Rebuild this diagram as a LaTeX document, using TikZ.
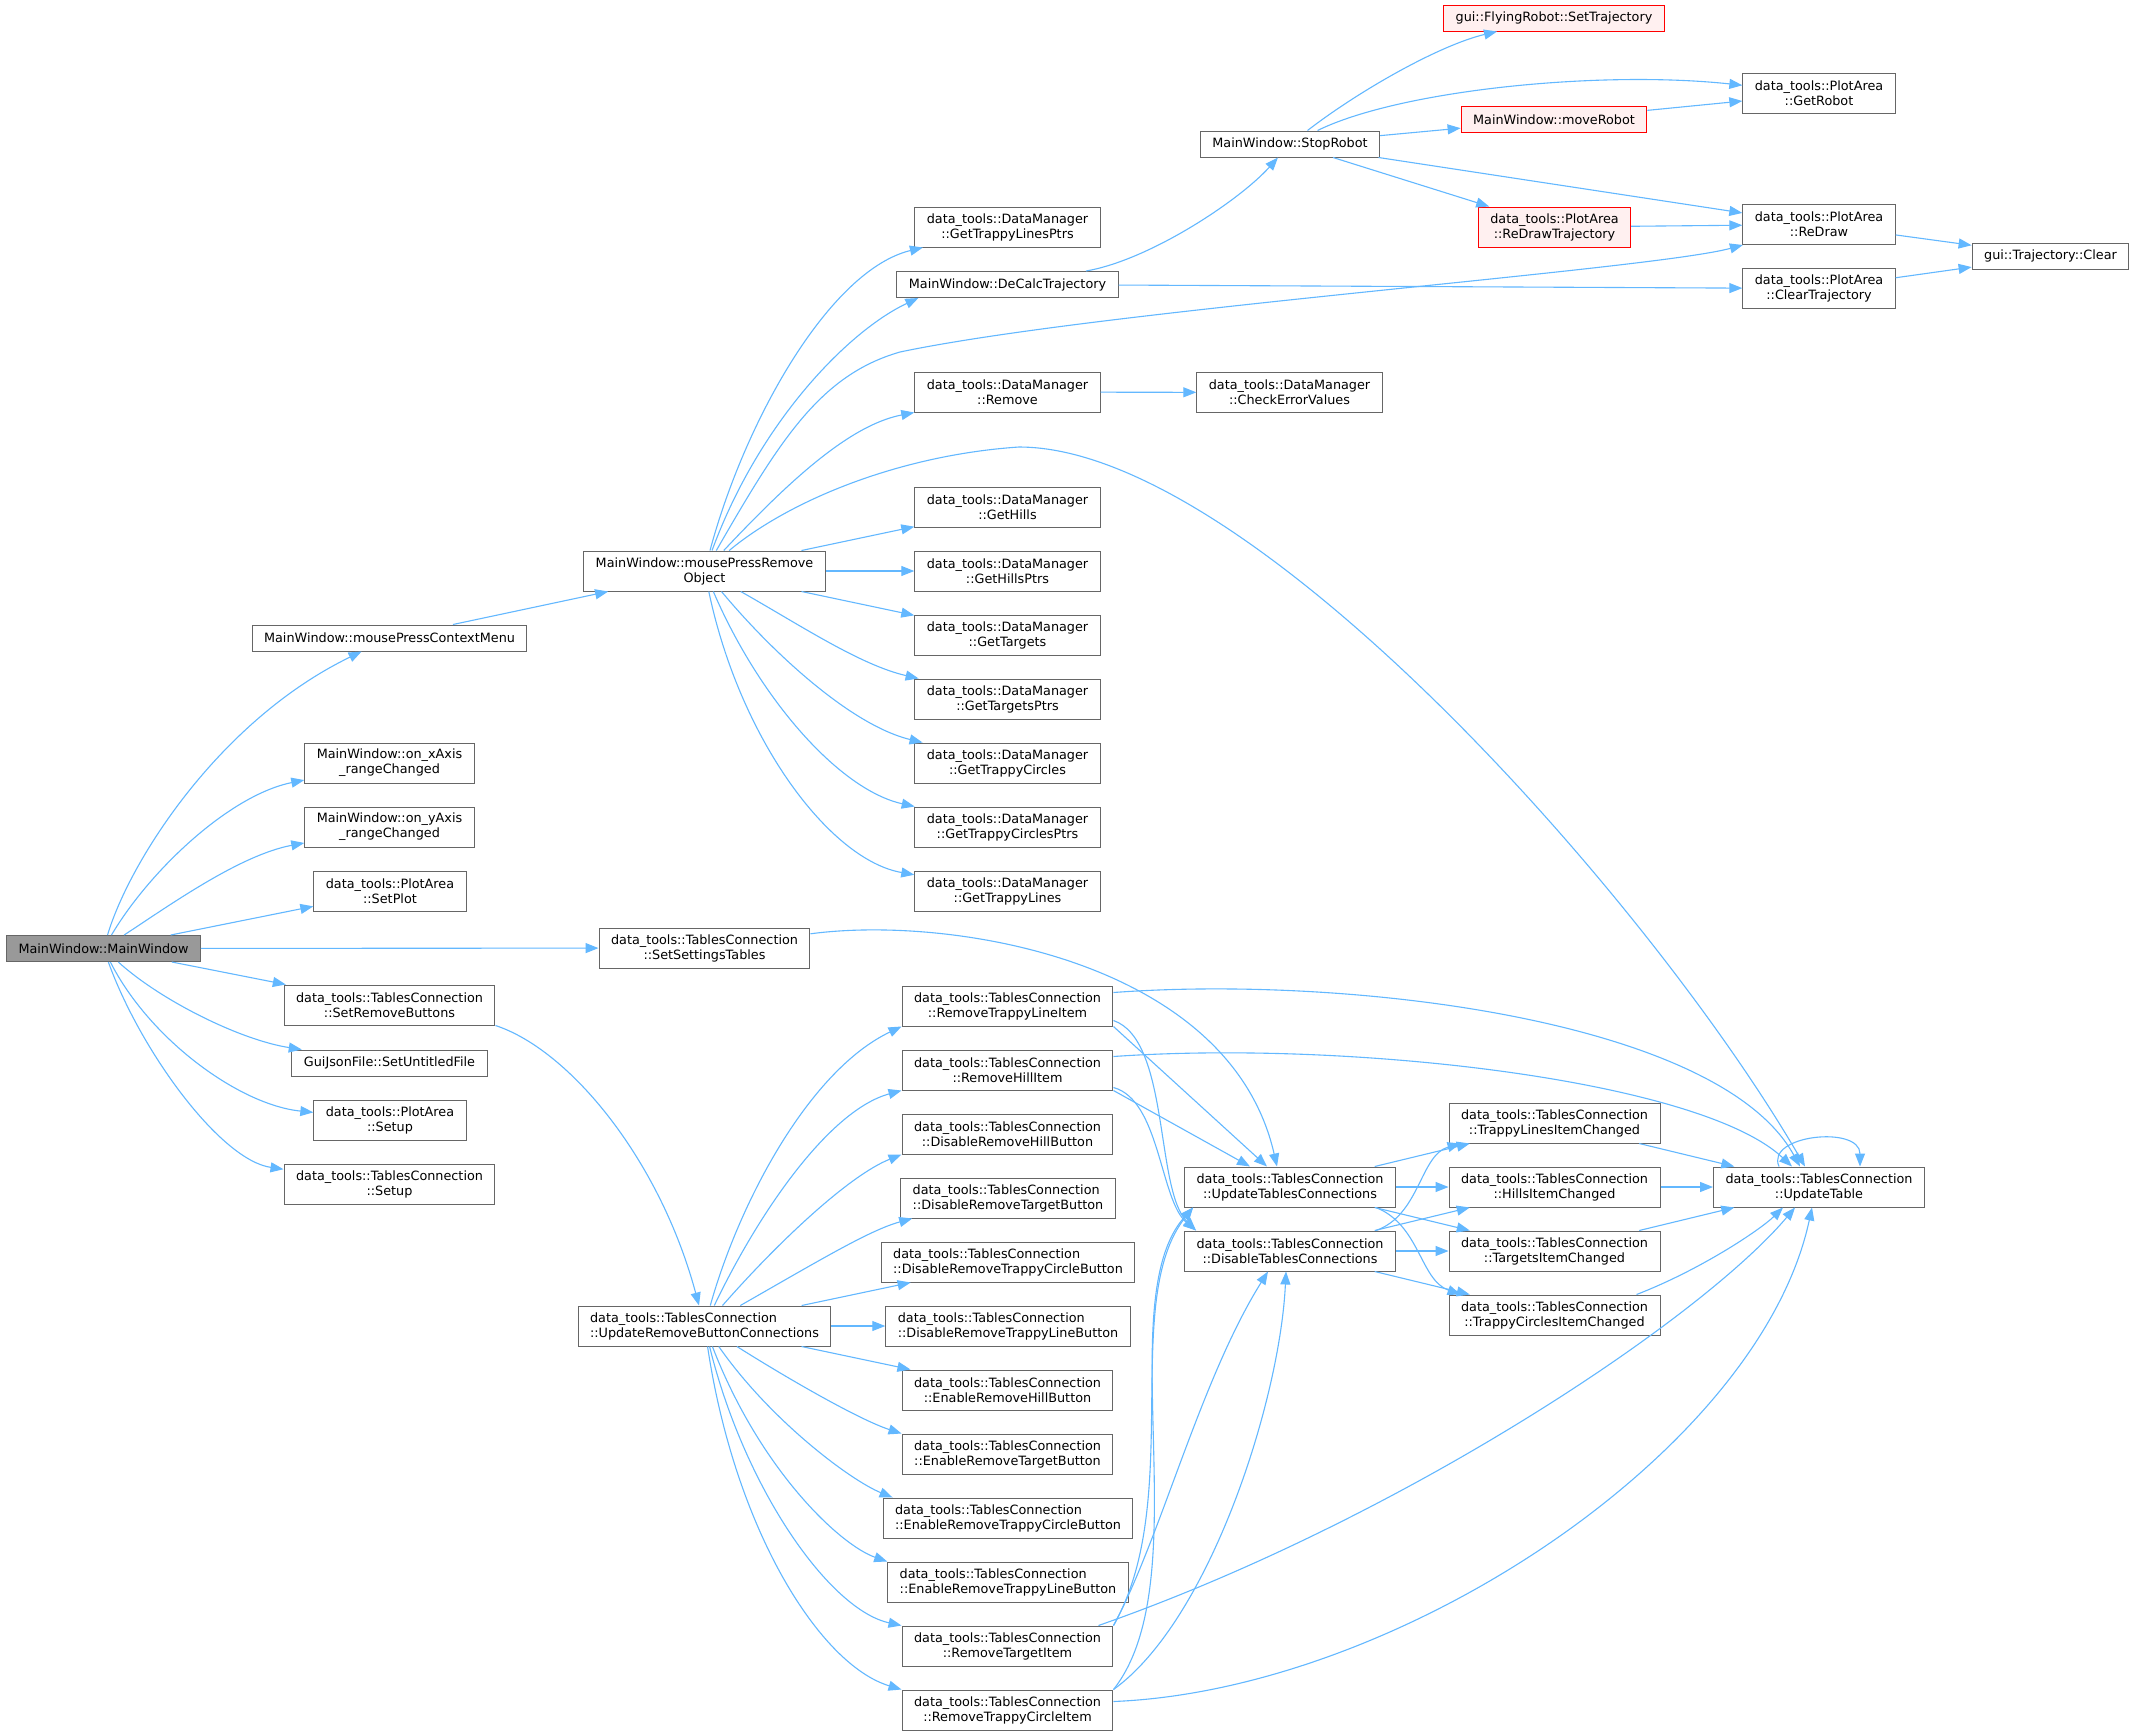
\documentclass[tikz,border=0pt]{standalone}
\usepackage{fontspec}
\newfontfamily\dejavu{DejaVu Sans}
\usetikzlibrary{arrows.meta}
\definecolor{edgeblue}{HTML}{63B8FF}
\definecolor{boxgray}{HTML}{666666}
\definecolor{rootgray}{HTML}{999999}
\definecolor{redfill}{HTML}{FFF0F0}
\newcommand\callfont{\dejavu\fontsize{12.8}{15}\selectfont}

\tikzset{
  fn/.style={draw=boxgray, fill=white, line width=1pt, align=center, font=\callfont,
    inner xsep=12pt, inner ysep=3pt, minimum height=26pt},
  fn2/.style={fn, minimum height=40pt},
  fnl/.style={fn2, align=left},
  root/.style={fn, fill=rootgray},
  flagged/.style={draw=red, fill=redfill},
  call/.style={draw=edgeblue, line width=1.1pt, -{Triangle[length=13pt,width=10pt]}}
}

\begin{document}
\begin{tikzpicture}[x=1pt,y=-1pt]
\fill[white] (0,0) rectangle (2133,1735);
\useasboundingbox (0,0) rectangle (2133,1735);

% callers of the first level
\node[root] (main) at (103.5,948.5) {MainWindow::MainWindow};
\node[fn] (ctx) at (389.5,638) {MainWindow::mousePressContextMenu};
\node[fn2] (xaxis) at (389.5,763) {MainWindow::on\_xAxis\\\_rangeChanged};
\node[fn2] (yaxis) at (389.5,827) {MainWindow::on\_yAxis\\\_rangeChanged};
\node[fn2] (setplot) at (390,891) {data\_tools::PlotArea\\::SetPlot};
\node[fn2] (setremove) at (389.5,1005) {data\_tools::TablesConnection\\::SetRemoveButtons};
\node[fn] (untitled) at (389.5,1063) {GuiJsonFile::SetUntitledFile};
\node[fn2] (pasetup) at (390,1120) {data\_tools::PlotArea\\::Setup};
\node[fn2] (tcsetup) at (389.5,1184.5) {data\_tools::TablesConnection\\::Setup};

\node[fn2] (remobj) at (704.5,571) {MainWindow::mousePressRemove\\Object};
\node[fn2] (settings) at (704.5,948) {data\_tools::TablesConnection\\::SetSettingsTables};
\node[fnl] (updrem) at (704.5,1326) {data\_tools::TablesConnection\\::UpdateRemoveButtonConnections};

% data manager column
\node[fn] (decalc) at (1007.5,284.5) {MainWindow::DeCalcTrajectory};
\foreach \n/\t/\y in {gtlp/GetTrappyLinesPtrs/227, remove/Remove/392, gethills/GetHills/507,
    gethillsptrs/GetHillsPtrs/571, gettargets/GetTargets/635, gettargetsptrs/GetTargetsPtrs/699,
    gettc/GetTrappyCircles/763, gettcp/GetTrappyCirclesPtrs/827, gettl/GetTrappyLines/891}
  \node[fn2] (\n) at (1007.5,\y) {data\_tools::DataManager\\::\t};

% tables connection column
\foreach \n/\t/\y in {remtl/RemoveTrappyLineItem/1006, remhill/RemoveHillItem/1070,
    disbtnhill/DisableRemoveHillButton/1134, enbtnhill/EnableRemoveHillButton/1390,
    enbtntarget/EnableRemoveTargetButton/1454, remtarget/RemoveTargetItem/1646,
    remcircle/RemoveTrappyCircleItem/1710}
  \node[fn2] (\n) at (1007.5,\y) {data\_tools::TablesConnection\\::\t};
\foreach \n/\t/\y in {disbtntarget/DisableRemoveTargetButton/1198,
    disbtncircle/DisableRemoveTrappyCircleButton/1262, disbtnline/DisableRemoveTrappyLineButton/1326,
    enbtncircle/EnableRemoveTrappyCircleButton/1518, enbtnline/EnableRemoveTrappyLineButton/1582}
  \node[fnl] (\n) at (1008,\y) {data\_tools::TablesConnection\\::\t};

\node[fn] (stop) at (1290,144) {MainWindow::StopRobot};
\node[fn2] (checkerr) at (1289.5,392.5) {data\_tools::DataManager\\::CheckErrorValues};
\node[fn2] (updtc) at (1290,1187) {data\_tools::TablesConnection\\::UpdateTablesConnections};
\node[fn2] (distc) at (1290,1251) {data\_tools::TablesConnection\\::DisableTablesConnections};

\node[fn,flagged] (settraj) at (1554,18) {gui::FlyingRobot::SetTrajectory};
\node[fn,flagged] (moverobot) at (1554,119.5) {MainWindow::moveRobot};
\node[fn2,flagged] (redrawtraj) at (1554.5,227) {data\_tools::PlotArea\\::ReDrawTrajectory};
\node[fn2] (tlic) at (1554.5,1123) {data\_tools::TablesConnection\\::TrappyLinesItemChanged};
\node[fn2] (hic) at (1554.5,1187) {data\_tools::TablesConnection\\::HillsItemChanged};
\node[fn2] (tic) at (1554.5,1251) {data\_tools::TablesConnection\\::TargetsItemChanged};
\node[fn2] (tcic) at (1554.5,1315) {data\_tools::TablesConnection\\::TrappyCirclesItemChanged};

\node[fn2] (getrobot) at (1819,93.5) {data\_tools::PlotArea\\::GetRobot};
\node[fn2] (redraw) at (1819,224.5) {data\_tools::PlotArea\\::ReDraw};
\node[fn2] (cleartraj) at (1819,288.5) {data\_tools::PlotArea\\::ClearTrajectory};
\node[fn2] (updtable) at (1819,1187) {data\_tools::TablesConnection\\::UpdateTable};
\node[fn] (clear) at (2050.5,256) {gui::Trajectory::Clear};

% calls from MainWindow
\draw[call] (main) .. controls (130,860) and (220,720) .. (ctx);
\draw[call] (main) .. controls (150,870) and (230,795) .. (xaxis);
\draw[call] (main) .. controls (170,905) and (240,855) .. (yaxis);
\draw[call] (main) -- (setplot);
\draw[call] (main) -- (settings);
\draw[call] (main) -- (setremove);
\draw[call] (main) .. controls (160,1000) and (240,1040) .. (untitled);
\draw[call] (main) .. controls (150,1040) and (240,1105) .. (pasetup);
\draw[call] (main) .. controls (140,1050) and (220,1160) .. (tcsetup);
\draw[call] (ctx) -- (remobj);

% mousePressRemoveObject
\draw[call] (remobj) .. controls (745,420) and (830,270) .. (gtlp);
\draw[call] (remobj) .. controls (760,420) and (850,330) .. ([xshift=22pt]decalc.south west);
\draw[call] (remobj) .. controls (780,440) and (820,375) .. (900,352)
  .. controls (1100,310) and (1650,270) .. (redraw);
\draw[call] (remobj) .. controls (790,480) and (850,425) .. (remove.south west);
\draw[call] (remobj) .. controls (790,500) and (900,455) .. (1019,447)
  .. controls (1250,447) and (1650,900) .. ([xshift=-14pt]updtable.north);
\draw[call] (remobj) -- (gethills);
\draw[call] (remobj) -- (gethillsptrs);
\draw[call] (remobj) -- (gettargets);
\draw[call] (remobj) .. controls (800,625) and (860,665) .. (gettargetsptrs);
\draw[call] (remobj) .. controls (770,650) and (850,725) .. (gettc);
\draw[call] (remobj) .. controls (760,700) and (840,790) .. (gettcp);
\draw[call] (remobj) .. controls (740,740) and (830,860) .. (gettl);

% trajectory
\draw[call] (decalc) .. controls (1150,260) and (1240,200) .. (stop);
\draw[call] (decalc) -- (cleartraj);
\draw[call] (stop) .. controls (1360,90) and (1440,45) .. (settraj);
\draw[call] (stop) .. controls (1400,90) and (1600,70) .. (getrobot);
\draw[call] (stop) -- (moverobot);
\draw[call] (stop) -- (redrawtraj);
\draw[call] (stop) -- (redraw);
\draw[call] (moverobot) -- (getrobot);
\draw[call] (redrawtraj) -- (redraw);
\draw[call] (redraw) -- (clear);
\draw[call] (cleartraj) -- (clear);
\draw[call] (remove) -- (checkerr);

% remove buttons
\draw[call] (settings) .. controls (950,915) and (1230,960) .. ([xshift=-13pt]updtc.north);
\draw[call] (setremove.south east) .. controls (570,1050) and (660,1160) .. (updrem);
\draw[call] (updrem) .. controls (740,1200) and (810,1070) .. (remtl.south west);
\draw[call] (updrem) .. controls (760,1210) and (830,1110) .. (remhill.south west);
\draw[call] (updrem) .. controls (780,1240) and (850,1175) .. (disbtnhill.south west);
\draw[call] (updrem) .. controls (820,1260) and (870,1230) .. ([xshift=12pt]disbtntarget.south west);
\draw[call] (updrem) -- ([xshift=30pt]disbtncircle.south west);
\draw[call] (updrem) -- (disbtnline);
\draw[call] (updrem) -- (enbtnhill);
\draw[call] (updrem) .. controls (790,1380) and (860,1420) .. (enbtntarget.north west);
\draw[call] (updrem) .. controls (770,1420) and (850,1480) .. ([xshift=10pt]enbtncircle.north west);
\draw[call] (updrem) .. controls (760,1470) and (840,1545) .. (enbtnline.north west);
\draw[call] (updrem) .. controls (745,1490) and (830,1610) .. (remtarget.north west);
\draw[call] (updrem) .. controls (735,1530) and (820,1665) .. (remcircle.north west);

% remove items
\draw[call] (remtl.south east) -- ([xshift=-23pt]updtc.north);
\draw[call] ([yshift=6pt]remtl.south east) .. controls (1170,1040) and (1155,1190) .. ([xshift=12pt]distc.north west);
\draw[call] ([yshift=-7pt]remtl.north east) .. controls (1350,975) and (1720,1020) .. ([xshift=-19pt]updtable.north);
\draw[call] (remhill.south east) -- ([xshift=-40pt]updtc.north);
\draw[call] ([yshift=3pt]remhill.south east) .. controls (1160,1100) and (1160,1200) .. ([xshift=12pt]distc.north west);
\draw[call] ([yshift=-7pt]remhill.north east) .. controls (1350,1040) and (1700,1080) .. ([xshift=-27pt]updtable.north);
\draw[call] (remtarget.north east) .. controls (1185,1500) and (1120,1300) .. ([xshift=9pt]updtc.south west);
\draw[call] (remtarget.north east) .. controls (1160,1540) and (1200,1380) .. ([xshift=-22pt]distc.south);
\draw[call] ([xshift=-15pt]remtarget.north east) .. controls (1400,1520) and (1700,1320) .. ([xshift=-24pt]updtable.south);
\draw[call] (remcircle.north east) .. controls (1200,1580) and (1110,1300) .. ([xshift=9pt]updtc.south west);
\draw[call] (remcircle.north east) .. controls (1210,1620) and (1280,1400) .. ([xshift=-4pt]distc.south);
\draw[call] ([yshift=-12pt]remcircle.north east) .. controls (1400,1690) and (1760,1450) .. ([xshift=-7pt]updtable.south);

% item changed
\draw[call] (updtc) -- (tlic);
\draw[call] (updtc) -- (hic);
\draw[call] (updtc) -- (tic);
\draw[call] ([xshift=-20pt]updtc.south east) .. controls (1420,1225) and (1420,1280) .. ([xshift=12pt]tcic.north west);
\draw[call] ([xshift=-20pt]distc.north east) .. controls (1420,1215) and (1420,1155) .. ([xshift=12pt]tlic.south west);
\draw[call] (distc) -- (hic);
\draw[call] (distc) -- (tic);
\draw[call] (distc) -- (tcic);
\draw[call] (tlic) -- (updtable);
\draw[call] (hic) -- (updtable);
\draw[call] (tic) -- (updtable);
\draw[call] ([xshift=82pt]tcic.north) .. controls (1700,1270) and (1760,1230) .. ([xshift=-36pt]updtable.south);
\draw[call] ([xshift=-40pt]updtable.north) .. controls (1765,1135) and (1860,1125) .. ([xshift=41pt]updtable.north);
%\draw (current bounding box.south west) rectangle (current bounding box.north east);
\end{tikzpicture}
\end{document}
